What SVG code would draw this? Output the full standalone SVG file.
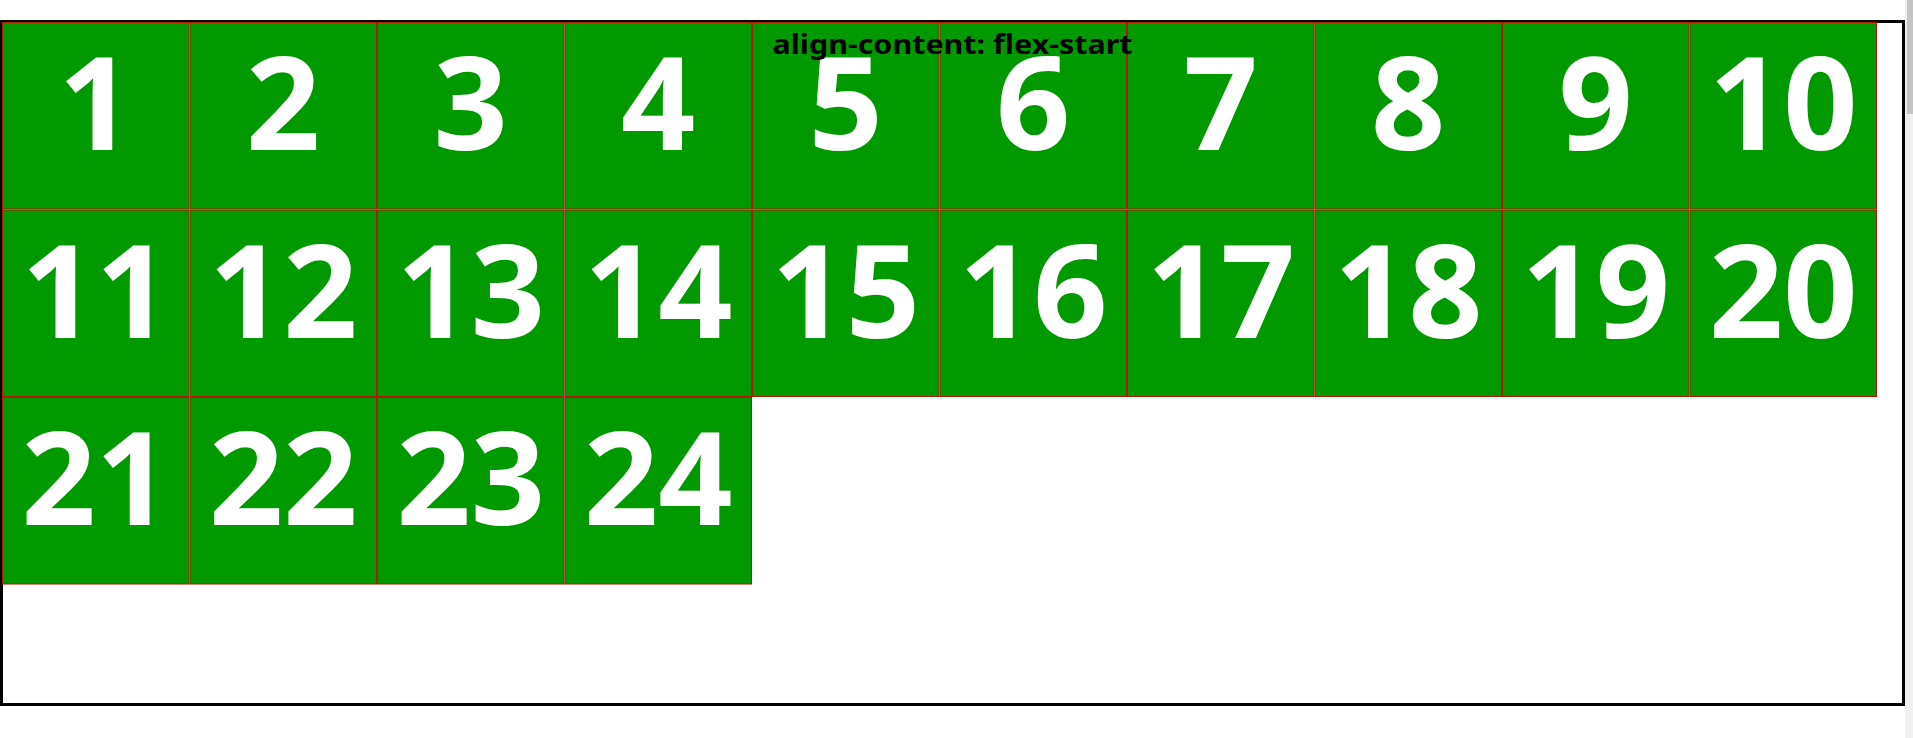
<svg xmlns="http://www.w3.org/2000/svg" width="1913" height="738" viewBox="0 0 1913 738">
<style>
.item rect{fill:#009900;stroke:#b01800;stroke-width:1}
.item text{fill:#fff;font-family:"Noto Sans","Open Sans",sans-serif;font-weight:700;font-size:130px;text-anchor:middle}
.title{fill:#000;font-family:"Noto Sans","Open Sans",sans-serif;font-weight:700;font-size:27px;text-anchor:middle}
</style>
<rect x="0" y="0" width="1913" height="738" fill="#fff"/>
<rect x="1905" y="0" width="8" height="738" fill="#f0f0f0"/>
<rect x="1907" y="0" width="6" height="114" fill="#c4c4c4"/>
<rect id="container" x="1.5" y="21.5" width="1902" height="683" fill="#fff" stroke="#000" stroke-width="3"/>
<g id="items">
<g id="n1" class="item"><rect x="2.5" y="22.5" width="186.5" height="186.5"/><text x="95.75" y="150">1</text></g>
<g id="n2" class="item"><rect x="190" y="22.5" width="186.5" height="186.5"/><text x="283.25" y="150">2</text></g>
<g id="n3" class="item"><rect x="377.5" y="22.5" width="186.5" height="186.5"/><text x="470.75" y="150">3</text></g>
<g id="n4" class="item"><rect x="565" y="22.5" width="186.5" height="186.5"/><text x="658.25" y="150">4</text></g>
<g id="n5" class="item"><rect x="752.5" y="22.5" width="186.5" height="186.5"/><text x="845.75" y="150">5</text></g>
<g id="n6" class="item"><rect x="940" y="22.5" width="186.5" height="186.5"/><text x="1033.25" y="150">6</text></g>
<g id="n7" class="item"><rect x="1127.5" y="22.5" width="186.5" height="186.5"/><text x="1220.75" y="150">7</text></g>
<g id="n8" class="item"><rect x="1315" y="22.5" width="186.5" height="186.5"/><text x="1408.25" y="150">8</text></g>
<g id="n9" class="item"><rect x="1502.5" y="22.5" width="186.5" height="186.5"/><text x="1595.75" y="150">9</text></g>
<g id="n10" class="item"><rect x="1690" y="22.5" width="186.5" height="186.5"/><text x="1783.25" y="150">10</text></g>
<g id="n11" class="item"><rect x="2.5" y="210" width="186.5" height="186.5"/><text x="95.75" y="337.5">11</text></g>
<g id="n12" class="item"><rect x="190" y="210" width="186.5" height="186.5"/><text x="283.25" y="337.5">12</text></g>
<g id="n13" class="item"><rect x="377.5" y="210" width="186.5" height="186.5"/><text x="470.75" y="337.5">13</text></g>
<g id="n14" class="item"><rect x="565" y="210" width="186.5" height="186.5"/><text x="658.25" y="337.5">14</text></g>
<g id="n15" class="item"><rect x="752.5" y="210" width="186.5" height="186.5"/><text x="845.75" y="337.5">15</text></g>
<g id="n16" class="item"><rect x="940" y="210" width="186.5" height="186.5"/><text x="1033.25" y="337.5">16</text></g>
<g id="n17" class="item"><rect x="1127.5" y="210" width="186.5" height="186.5"/><text x="1220.75" y="337.5">17</text></g>
<g id="n18" class="item"><rect x="1315" y="210" width="186.5" height="186.5"/><text x="1408.25" y="337.5">18</text></g>
<g id="n19" class="item"><rect x="1502.5" y="210" width="186.5" height="186.5"/><text x="1595.75" y="337.5">19</text></g>
<g id="n20" class="item"><rect x="1690" y="210" width="186.5" height="186.5"/><text x="1783.25" y="337.5">20</text></g>
<g id="n21" class="item"><rect x="2.5" y="397.5" width="186.5" height="186.5"/><text x="95.75" y="525">21</text></g>
<g id="n22" class="item"><rect x="190" y="397.5" width="186.5" height="186.5"/><text x="283.25" y="525">22</text></g>
<g id="n23" class="item"><rect x="377.5" y="397.5" width="186.5" height="186.5"/><text x="470.75" y="525">23</text></g>
<g id="n24" class="item"><rect x="565" y="397.5" width="186.5" height="186.5"/><text x="658.25" y="525">24</text></g>
</g>
<g id="connectors"/>
<text id="title" class="title" x="952.5" y="54" textLength="360" lengthAdjust="spacingAndGlyphs">align-content: flex-start</text>
</svg>
